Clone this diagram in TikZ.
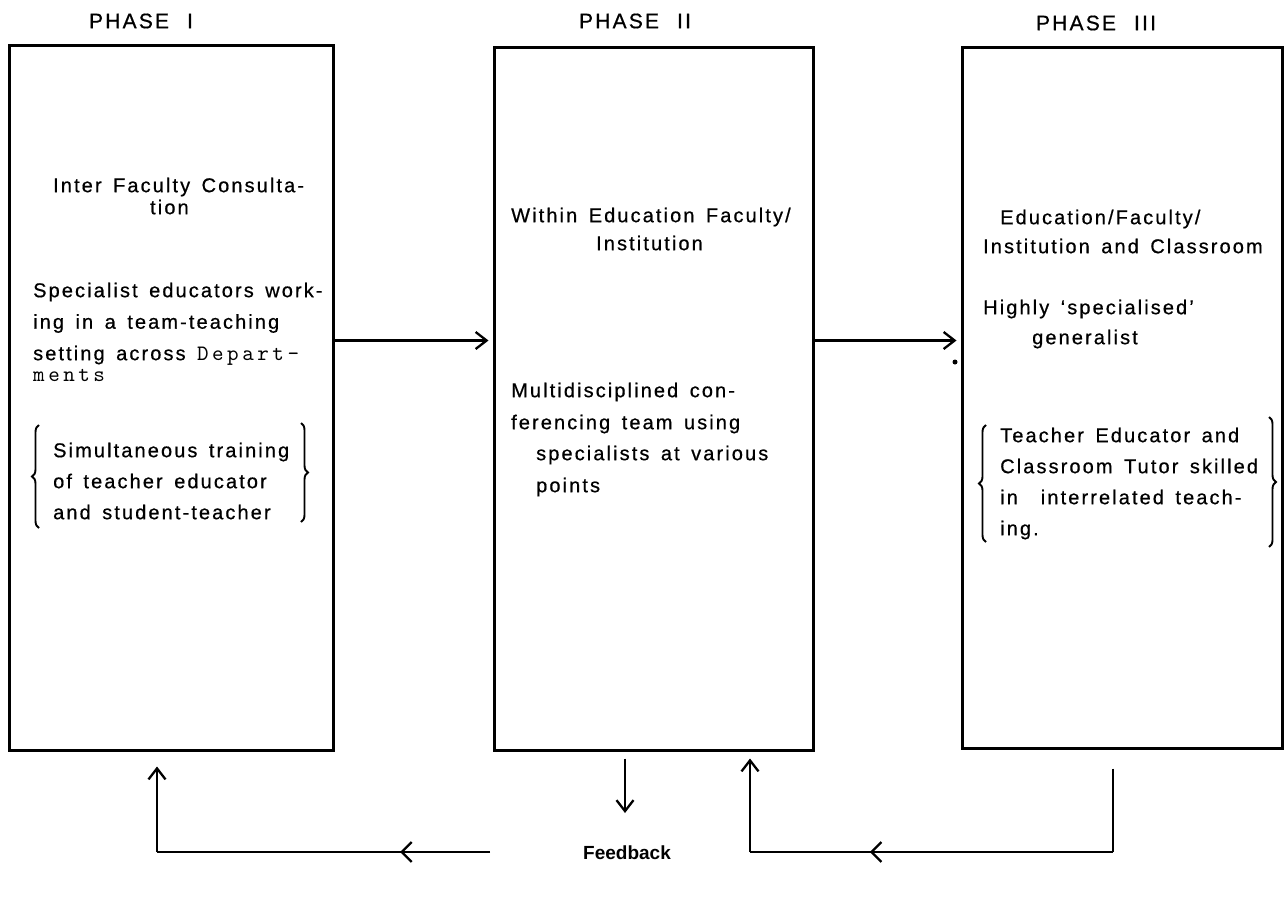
\documentclass[tikz,border=0pt]{standalone}
\usepackage{fontspec}
\newfontfamily\phs{Liberation Sans}[LetterSpace=10.5, WordSpace=1.5, FakeBold=0.6]
\newfontfamily\phsb{Liberation Sans}
\newfontfamily\depf{lmmono10-regular}[Extension=.otf, LetterSpace=16]
\usetikzlibrary{arrows.meta,decorations.pathreplacing,decorations.markings}
\tikzset{
  phasebox/.style={draw, line width=3pt, inner sep=0pt},
  txt/.style={anchor=north west, inner sep=0pt, align=left, font=\phs\fontsize{20}{31.5}\selectfont},
  ttl/.style={anchor=center, inner sep=0pt, font=\phs\fontsize{21}{22}\selectfont},
  arr/.style={line width=2.3pt, -{Straight Barb[length=11pt,width=17pt,line width=2.3pt]}},
  ln/.style={line width=2.3pt},
  brc/.style={decorate, decoration={brace, amplitude=7pt}, line width=1.9pt},
  midarr/.style={postaction={decorate, decoration={markings,
      mark=at position #1 with {\arrow[line width=2.3pt]{Straight Barb[length=10pt,width=20pt]}}}}}
}
\begin{document}
\begin{tikzpicture}[x=1pt,y=-1pt]
\useasboundingbox (0,0) rectangle (1284,900);
\fill[white] (0,0) rectangle (1284,900);

% boxes
\node[phasebox, minimum width=324pt, minimum height=705pt] (b1) at (171,397.5) {};
\node[phasebox, minimum width=319pt, minimum height=703pt] (b2) at (653.5,398.5) {};
\node[phasebox, minimum width=320pt, minimum height=701pt] (b3) at (1122,397.5) {};

% titles
\node[ttl] (p1) at (141,21) {PHASE\hspace{18pt}I};
\node[ttl] (p2) at (635,21) {PHASE\hspace{18pt}II};
\node[ttl] (p3) at (1096,23) {PHASE\hspace{18pt}III};

% box 1 text
\node[txt] (t1a) at (53,177.5) {Inter Faculty Consulta-};
\node[txt] (t1b) at (150,199.5) {tion};
\node[txt] (t1c) at (33,282.5) {Specialist educators work-\\ing in a team-teaching\\setting across {\depf\fontsize{22}{22}\selectfont Depart\textendash}};
\node[anchor=base west, inner sep=0pt, font=\depf\fontsize{22}{22}\selectfont] (t1d) at (33,381) {ments};
\node[txt, font=\phs\fontsize{20}{31}\selectfont] (t1e) at (53,442.5) {Simultaneous training\\of teacher educator\\and student-teacher};
\draw[brc] (39,528) -- (39,425);
\draw[brc] (301,423) -- (301,522);

% box 2 text
\node[txt] (t2a) at (511,207.5) {Within Education Faculty/};
\node[txt] (t2b) at (596,235.5) {Institution};
\node[txt, font=\phs\fontsize{20}{32}\selectfont] (t2c) at (511,382.5) {Multidisciplined con-\\ferencing team using};
\node[txt, font=\phs\fontsize{20}{32}\selectfont] (t2d) at (536,445.5) {specialists at various\\points};

% box 3 text
\node[txt] (t3a) at (1000,209.5) {Education/Faculty/};
\node[txt] (t3b) at (983,238.5) {Institution and Classroom};
\node[txt] (t3c) at (983,299.5) {Highly ‘specialised’};
\node[txt] (t3d) at (1032,329.5) {generalist};
\node[txt, font=\phs\fontsize{20}{31}\selectfont] (t3e) at (1000,427.5) {Teacher Educator and\\Classroom Tutor skilled\\in\ \ interrelated teach-\\ing.};
\draw[brc] (986,542) -- (986,425);
\draw[brc] (1269,417) -- (1269,547);

% forward arrows
\draw[arr, shorten >=4pt] ([yshift=57pt]b1.east) -- ([yshift=58pt]b2.west);
\draw[arr, shorten >=4pt] ([yshift=58pt]b2.east) -- ([yshift=57pt]b3.west);
\fill (955,362) circle (2.5pt);

% feedback
\node[inner sep=0pt, anchor=north, font=\phsb\bfseries\fontsize{19}{19}\selectfont] (fb) at (627,846) {Feedback};
\coordinate (fbx) at (625,0);
\draw[arr, shorten <=7pt] (b2.south -| fbx) -- (fbx |- 0,813);

% left return loop
\coordinate (L0) at (490,852);
\coordinate (L1) at (157,852);
\draw[ln, midarr=0.27] (L0) -- (L1);
\draw[arr, shorten >=15pt] (L1) -- (L1 |- b1.south);

% right return loop
\coordinate (R1) at (1113,852);
\coordinate (R2) at (750,852);
\draw[ln, shorten <=19pt] (R1 |- b3.south) -- (R1);
\draw[ln, midarr=0.67] (R1) -- (R2);
\draw[arr, shorten >=7pt] (R2) -- (R2 |- b2.south);
\end{tikzpicture}
\end{document}
